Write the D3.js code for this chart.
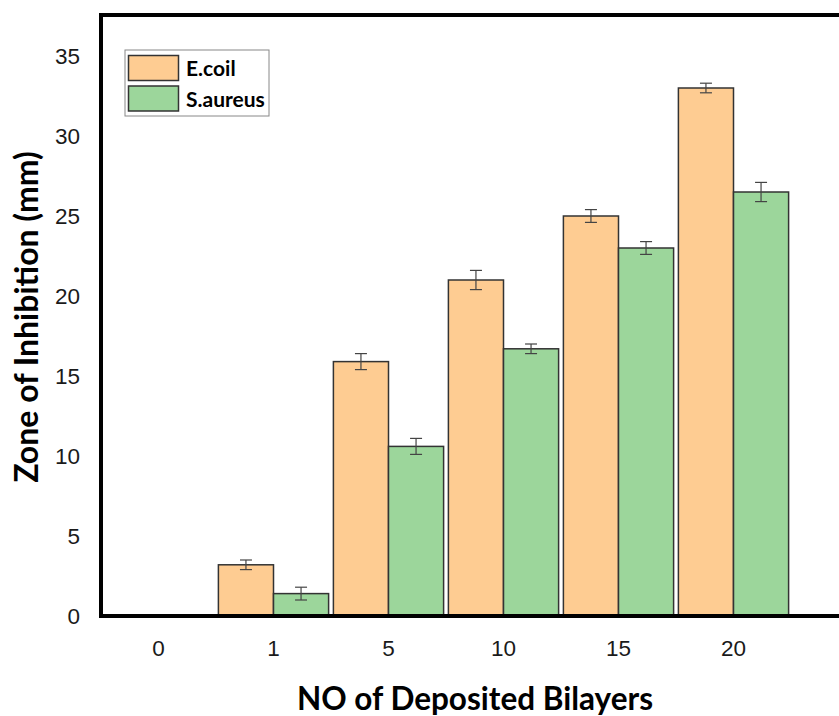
<!DOCTYPE html>
<html>
<head>
<meta charset="utf-8">
<script src="https://cdn.jsdelivr.net/npm/d3@7"></script>
<style>
  html, body { margin: 0; padding: 0; background: #fff; }
  svg { display: block; }
</style>
</head>
<body>
<svg id="chart" width="839" height="716"></svg>
<script>
// Zone of inhibition vs. number of deposited bilayers
const categories = ["0", "1", "5", "10", "15", "20"];
const seriesNames = ["E.coil", "S.aureus"];
const ecoliValues = [0, 3.2, 15.9, 21.0, 25.0, 33.0];
const ecoliErrors = [0, 0.3, 0.5, 0.6, 0.4, 0.3];
const saureusValues = [0, 1.4, 10.6, 16.7, 23.0, 26.5];
const saureusErrors = [0, 0.4, 0.5, 0.3, 0.4, 0.6];
const yTicks = [0, 5, 10, 15, 20, 25, 30, 35];
const colors = ["#FECC92", "#9CD69B"];

const svg = d3.select("#chart");
const W = 839, H = 716;
const plotLeft = 101, plotTop = 15, plotBottom = 616;

const x = d3.scaleBand().domain(categories).range([plotLeft, plotLeft + 6 * 115]).paddingInner(0).paddingOuter(0);
const inner = d3.scaleBand().domain(seriesNames).range([0, x.bandwidth()]).paddingInner(0).paddingOuter(0.0435);
const y = d3.scaleLinear().domain([0, 37.5]).range([plotBottom, plotBottom - 37.5 * 16]);

const rows = categories.map((c, i) => ({
  cat: c,
  items: [
    { name: seriesNames[0], v: ecoliValues[i], e: ecoliErrors[i], color: colors[0] },
    { name: seriesNames[1], v: saureusValues[i], e: saureusErrors[i], color: colors[1] }
  ]
}));

const groups = svg.append("g").selectAll("g").data(rows).join("g")
  .attr("transform", d => `translate(${x(d.cat)},0)`);

groups.selectAll("rect").data(d => d.items.filter(it => it.v > 0)).join("rect")
  .attr("x", d => inner(d.name))
  .attr("y", d => y(d.v))
  .attr("width", inner.bandwidth())
  .attr("height", d => y(0) - y(d.v))
  .attr("fill", d => d.color)
  .attr("stroke", "#333")
  .attr("stroke-width", 1.5);

// error bars
const eb = groups.selectAll("g.err").data(d => d.items.filter(it => it.v > 0)).join("g")
  .attr("class", "err")
  .attr("stroke", "#444")
  .attr("stroke-width", 1.2);
eb.append("line")
  .attr("x1", d => inner(d.name) + inner.bandwidth() / 2)
  .attr("x2", d => inner(d.name) + inner.bandwidth() / 2)
  .attr("y1", d => y(d.v + d.e))
  .attr("y2", d => y(d.v - d.e));
eb.append("line")
  .attr("x1", d => inner(d.name) + inner.bandwidth() / 2 - 6)
  .attr("x2", d => inner(d.name) + inner.bandwidth() / 2 + 6)
  .attr("y1", d => y(d.v + d.e))
  .attr("y2", d => y(d.v + d.e));
eb.append("line")
  .attr("x1", d => inner(d.name) + inner.bandwidth() / 2 - 6)
  .attr("x2", d => inner(d.name) + inner.bandwidth() / 2 + 6)
  .attr("y1", d => y(d.v - d.e))
  .attr("y2", d => y(d.v - d.e));

// Frame: left, top and bottom edges
const frame = svg.append("g").attr("stroke", "#000").attr("stroke-width", 4).attr("fill", "none");
frame.append("path").attr("d", `M${W},${plotTop} H${plotLeft} V${plotBottom} H${W}`);

// Y axis labels (no tick marks)
const yAxis = svg.append("g").attr("transform", `translate(${plotLeft - 2},0)`)
  .call(d3.axisLeft(y).tickValues(yTicks).tickSize(0).tickPadding(19));
yAxis.select(".domain").remove();
yAxis.selectAll("text")
  .attr("font-family", "'Liberation Sans', Arial, sans-serif")
  .attr("font-size", 22.5)
  .attr("fill", "#1a1a1a");

// X axis labels
const xAxis = svg.append("g").attr("transform", `translate(0,${plotBottom})`)
  .call(d3.axisBottom(x).tickSize(0).tickPadding(24));
xAxis.select(".domain").remove();
xAxis.selectAll("text")
  .attr("font-family", "'Liberation Sans', Arial, sans-serif")
  .attr("font-size", 22.5)
  .attr("fill", "#1a1a1a");

// Axis titles
svg.append("text")
  .attr("x", 475).attr("y", 710)
  .attr("text-anchor", "middle")
  .attr("font-family", "Lato, 'Open Sans', sans-serif")
  .attr("font-weight", "bold")
  .attr("font-size", 31.5)
  .attr("fill", "#000")
  .text("NO of Deposited Bilayers");

svg.append("text")
  .attr("transform", "translate(38,317) rotate(-90)")
  .attr("text-anchor", "middle")
  .attr("font-family", "Lato, 'Open Sans', sans-serif")
  .attr("font-weight", "bold")
  .attr("font-size", 32)
  .attr("fill", "#000")
  .text("Zone of Inhibition (mm)");

// Legend
const legend = svg.append("g");
legend.append("rect")
  .attr("x", 125).attr("y", 50).attr("width", 144).attr("height", 66)
  .attr("fill", "#fff").attr("stroke", "#888").attr("stroke-width", 1);
seriesNames.forEach((name, i) => {
  legend.append("rect")
    .attr("x", 128.5).attr("y", 55.5 + i * 30.5).attr("width", 50).attr("height", 25)
    .attr("fill", colors[i]).attr("stroke", "#333").attr("stroke-width", 1.5);
  legend.append("text")
    .attr("x", 186).attr("y", 76 + i * 30.5)
    .attr("font-family", "Lato, 'Open Sans', sans-serif")
    .attr("font-weight", "bold")
    .attr("font-size", 21)
    .attr("fill", "#000")
    .text(name);
});
</script>
</body>
</html>
